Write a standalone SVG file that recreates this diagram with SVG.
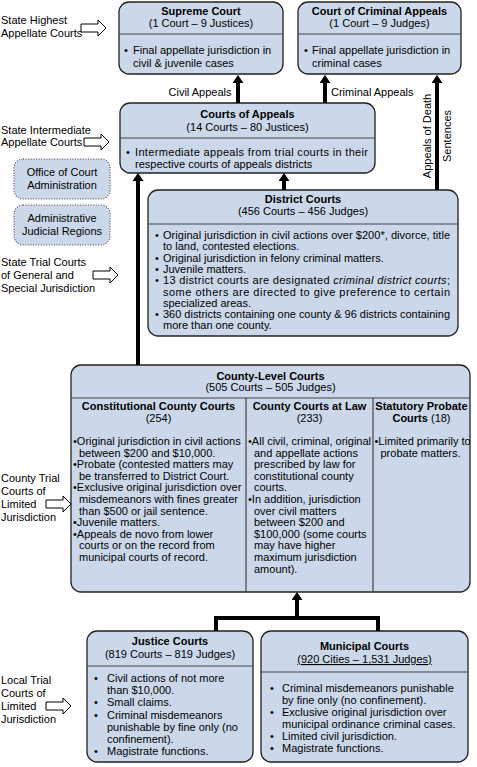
<svg xmlns="http://www.w3.org/2000/svg" width="477" height="767" viewBox="0 0 477 767">
<style>
text{font-family:"Liberation Sans",Arial,sans-serif;font-size:11px;fill:#000}
.t{font-weight:bold;text-anchor:middle}
.c{text-anchor:middle}
.box{fill:#cbd8ea;stroke:#222;stroke-width:1.3}
.dot{fill:#cbd8ea;stroke:#444;stroke-width:1.1;stroke-dasharray:1 1.6}
.div{stroke:#444;stroke-width:1.2}
.con{fill:none;stroke:#000;stroke-width:4}
.lvl{fill:#fff;stroke:#000;stroke-width:1}
</style>
<defs>
<marker id="ah" viewBox="0 0 8 11" refX="1" refY="5.5" markerWidth="8" markerHeight="11" markerUnits="userSpaceOnUse" orient="auto" preserveAspectRatio="none"><path d="M0,0 L8,5.5 L0,11 Z" fill="#000"/></marker>
<path id="la" d="M0,-4 H17 V-8 L25,0 L17,8 V4 H0 Z"/>
</defs>
<rect width="477" height="767" fill="#fff"/>

<g id="level-labels">
<text x="1" y="24">State Highest</text>
<text x="1" y="37">Appellate Courts</text>
<use href="#la" class="lvl" x="81" y="28"/>
<text x="1" y="134">State Intermediate</text>
<text x="1" y="146">Appellate Courts</text>
<use href="#la" class="lvl" x="84" y="142"/>
<text x="1" y="266">State Trial Courts</text>
<text x="1" y="279">of General and</text>
<text x="1" y="292">Special Jurisdiction</text>
<use href="#la" class="lvl" x="93" y="275"/>
<text x="1" y="482">County Trial</text>
<text x="1" y="495">Courts of</text>
<text x="1" y="508">Limited</text>
<text x="1" y="521">Jurisdiction</text>
<use href="#la" class="lvl" x="46" y="504"/>
<text x="1" y="684">Local Trial</text>
<text x="1" y="697">Courts of</text>
<text x="1" y="710">Limited</text>
<text x="1" y="723">Jurisdiction</text>
<use href="#la" class="lvl" x="46" y="706"/>
</g>

<g id="supreme-court">
<rect class="box" x="119" y="2" width="164" height="72" rx="10"/>
<text class="t" x="201" y="15">Supreme Court</text>
<text class="c" x="201" y="27">(1 Court – 9 Justices)</text>
<line class="div" x1="119" y1="34" x2="283" y2="34"/>
<text x="124" y="54">•</text>
<text x="133" y="54">Final appellate jurisdiction in</text>
<text x="133" y="67">civil &amp; juvenile cases</text>
</g>

<g id="court-of-criminal-appeals">
<rect class="box" x="298" y="2" width="163" height="72" rx="10"/>
<text class="t" x="379.5" y="15">Court of Criminal Appeals</text>
<text class="c" x="379.5" y="27">(1 Court – 9 Judges)</text>
<line class="div" x1="298" y1="34" x2="461" y2="34"/>
<text x="304" y="54">•</text>
<text x="312" y="54">Final appellate jurisdiction in</text>
<text x="312" y="67">criminal cases</text>
</g>

<g id="courts-of-appeals">
<rect class="box" x="120" y="103" width="255" height="70" rx="10"/>
<text class="t" x="247.5" y="118">Courts of Appeals</text>
<text class="c" x="247.5" y="131">(14 Courts – 80 Justices)</text>
<line class="div" x1="120" y1="138" x2="375" y2="138"/>
<text x="126" y="156">•</text>
<text x="135" y="156" textLength="233" lengthAdjust="spacing">Intermediate appeals from trial courts in their</text>
<text x="135" y="168">respective courts of appeals districts</text>
</g>

<g id="office-of-court-administration">
<rect class="dot" x="14" y="159" width="96" height="40" rx="9"/>
<text class="c" x="62" y="176">Office of Court</text>
<text class="c" x="62" y="189">Administration</text>
</g>

<g id="administrative-judicial-regions">
<rect class="dot" x="14" y="205" width="96" height="40" rx="9"/>
<text class="c" x="62" y="222">Administrative</text>
<text class="c" x="62" y="235">Judicial Regions</text>
</g>

<g id="district-courts">
<rect class="box" x="148" y="190" width="310" height="146" rx="10"/>
<text class="t" x="303" y="203">District Courts</text>
<text class="c" x="303" y="215">(456 Courts – 456 Judges)</text>
<line class="div" x1="148" y1="224" x2="458" y2="224"/>
<text x="155" y="239">•</text>
<text x="163" y="239" textLength="287" lengthAdjust="spacing">Original jurisdiction in civil actions over $200*, divorce, title</text>
<text x="163" y="250.3">to land, contested elections.</text>
<text x="155" y="261.6">•</text>
<text x="163" y="261.6">Original jurisdiction in felony criminal matters.</text>
<text x="155" y="272.9">•</text>
<text x="163" y="272.9">Juvenile matters.</text>
<text x="155" y="284.2">•</text>
<text x="163" y="284.2" textLength="287" lengthAdjust="spacing">13 district courts are designated <tspan font-style="italic">criminal district courts</tspan>;</text>
<text x="163" y="295.5" textLength="287" lengthAdjust="spacing">some others are directed to give preference to certain</text>
<text x="163" y="306.8">specialized areas.</text>
<text x="155" y="318.1">•</text>
<text x="163" y="318.1" textLength="287" lengthAdjust="spacing">360 districts containing one county &amp; 96 districts containing</text>
<text x="163" y="329.4">more than one county.</text>
</g>

<g id="county-level-courts">
<rect class="box" x="71" y="365" width="399" height="227" rx="10"/>
<text class="t" x="270.5" y="380">County-Level Courts</text>
<text class="c" x="270.5" y="391">(505 Courts – 505 Judges)</text>
<line class="div" x1="71" y1="398" x2="470" y2="398"/>
<line class="div" x1="246" y1="398" x2="246" y2="592"/>
<line class="div" x1="373" y1="398" x2="373" y2="592"/>
<text class="t" x="158.5" y="410">Constitutional County Courts</text>
<text class="c" x="158.5" y="422">(254)</text>
<text class="t" x="309.5" y="410">County Courts at Law</text>
<text class="c" x="309.5" y="422">(233)</text>
<text class="t" x="421.5" y="410">Statutory Probate</text>
<text class="c" x="421.5" y="422"><tspan font-weight="bold">Courts</tspan> (18)</text>
<text x="73" y="445">•Original jurisdiction in civil actions</text>
<text x="79" y="456.6">between $200 and $10,000.</text>
<text x="73" y="468.2">•Probate (contested matters may</text>
<text x="79" y="479.8">be transferred to District Court.</text>
<text x="73" y="491.4">•Exclusive original jurisdiction over</text>
<text x="79" y="503">misdemeanors with fines greater</text>
<text x="79" y="514.6">than $500 or jail sentence.</text>
<text x="73" y="526.2">•Juvenile matters.</text>
<text x="73" y="537.8">•Appeals de novo from lower</text>
<text x="79" y="549.4">courts or on the record from</text>
<text x="79" y="561">municipal courts of record.</text>
<text x="248" y="445">•All civil, criminal, original</text>
<text x="254" y="456.6">and appellate actions</text>
<text x="254" y="468.2">prescribed by law for</text>
<text x="254" y="479.8">constitutional county</text>
<text x="254" y="491.4">courts.</text>
<text x="248" y="503">•In addition, jurisdiction</text>
<text x="254" y="514.6">over civil matters</text>
<text x="254" y="526.2">between $200 and</text>
<text x="254" y="537.8">$100,000 (some courts</text>
<text x="254" y="549.4">may have higher</text>
<text x="254" y="561">maximum jurisdiction</text>
<text x="254" y="572.6">amount).</text>
<text x="374.5" y="445">•Limited primarily to</text>
<text x="380.5" y="456.6">probate matters.</text>
</g>

<g id="justice-courts">
<rect class="box" x="87" y="631" width="166" height="131" rx="10"/>
<text class="t" x="170" y="645">Justice Courts</text>
<text class="c" x="170" y="658">(819 Courts – 819 Judges)</text>
<line class="div" x1="87" y1="666" x2="253" y2="666"/>
<text x="94" y="682">•</text>
<text x="107" y="682">Civil actions of not more</text>
<text x="107" y="694.2">than $10,000.</text>
<text x="94" y="706.4">•</text>
<text x="107" y="706.4">Small claims.</text>
<text x="94" y="718.6">•</text>
<text x="107" y="718.6">Criminal misdemeanors</text>
<text x="107" y="730.8">punishable by fine only (no</text>
<text x="107" y="743">confinement).</text>
<text x="94" y="755.2">•</text>
<text x="107" y="755.2">Magistrate functions.</text>
</g>

<g id="municipal-courts">
<rect class="box" x="261" y="631" width="207" height="131" rx="10"/>
<text class="t" x="364.5" y="650">Municipal Courts</text>
<text class="c" x="364.5" y="663" text-decoration="underline">(920 Cities – 1,531 Judges)</text>
<line class="div" x1="261" y1="672" x2="468" y2="672"/>
<text x="270" y="692">•</text>
<text x="282" y="692">Criminal misdemeanors punishable</text>
<text x="282" y="704">by fine only (no confinement).</text>
<text x="270" y="716">•</text>
<text x="282" y="716">Exclusive original jurisdiction over</text>
<text x="282" y="728">municipal ordinance criminal cases.</text>
<text x="270" y="740">•</text>
<text x="282" y="740">Limited civil jurisdiction.</text>
<text x="270" y="752">•</text>
<text x="282" y="752">Magistrate functions.</text>
</g>

<g id="connectors">
<line class="con" x1="238" y1="103" x2="238" y2="82" marker-end="url(#ah)"/>
<line class="con" x1="325" y1="103" x2="325" y2="82" marker-end="url(#ah)"/>
<line class="con" x1="437" y1="190" x2="437" y2="82" marker-end="url(#ah)"/>
<line class="con" x1="284" y1="190" x2="284" y2="180" marker-end="url(#ah)"/>
<line class="con" x1="138" y1="365" x2="138" y2="180" marker-end="url(#ah)"/>
<path class="con" d="M216,631 V618 H378 V631"/>
<line class="con" x1="297" y1="618" x2="297" y2="599" marker-end="url(#ah)"/>
<text class="c" x="200" y="96">Civil Appeals</text>
<text x="331" y="96">Criminal Appeals</text>
<text class="c" transform="translate(431,136) rotate(-90)">Appeals of Death</text>
<text class="c" transform="translate(451,136) rotate(-90)">Sentences</text>
</g>
</svg>
